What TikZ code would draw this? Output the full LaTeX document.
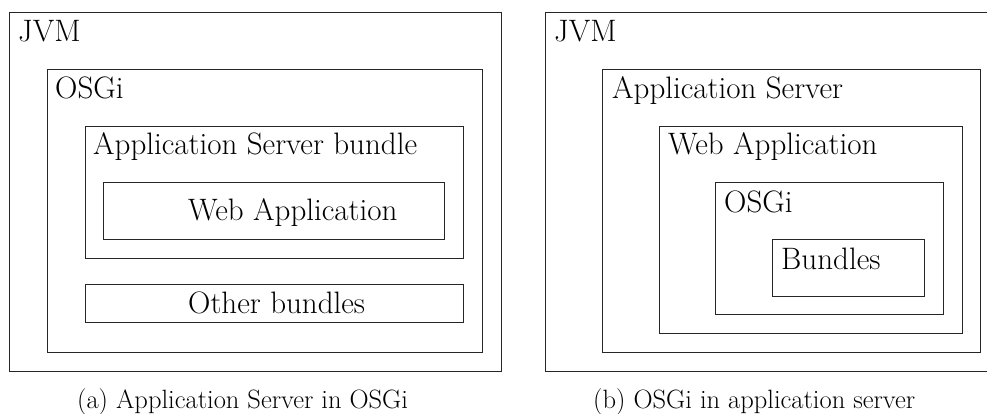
\documentclass[tikz,border=0pt]{standalone}
\usepackage{fontspec}
\begin{document}
\begin{tikzpicture}[x=1pt,y=-1pt,
  frame/.style={draw=black!85, line width=1.3pt, rectangle, inner sep=0pt, anchor=north west},
  boxlabel/.style={anchor=base west, inner sep=0pt, font=\fontsize{31}{37}\selectfont},
  captionlabel/.style={anchor=base west, inner sep=0pt, font=\fontsize{26.5}{32}\selectfont}]
\useasboundingbox (0,0) rectangle (987,414);
\clip (0,0) rectangle (987,414);

% (a) application server running inside OSGi
\node[frame, minimum width=492pt, minimum height=359pt] (jvmA) at (9,12) {};
\node[frame, minimum width=435pt, minimum height=283pt] (osgiA) at (47,69) {};
\node[frame, minimum width=378pt, minimum height=132pt] (asbA) at (85,126) {};
\node[frame, minimum width=341pt, minimum height=57pt] (webA) at (103,182) {};
\node[frame, minimum width=378pt, minimum height=38pt] (othA) at (85,284) {};

\node[boxlabel] (jvmAl) at (18,42) {JVM};
\node[boxlabel] (osgiAl) at (55,99) {OSGi};
\node[boxlabel] (asbAl) at (93,155) {Application Server bundle};
\node[boxlabel] (webAl) at (188,220) {Web Application};
\node[boxlabel] (othAl) at (188,313) {Other bundles};

% (b) OSGi embedded in a web application
\node[frame, minimum width=492pt, minimum height=359pt] (jvmB) at (545,12) {};
\node[frame, minimum width=378pt, minimum height=283pt] (asB) at (602,69) {};
\node[frame, minimum width=303pt, minimum height=207pt] (waB) at (659,126) {};
\node[frame, minimum width=228pt, minimum height=132pt] (osgiB) at (715,182) {};
\node[frame, minimum width=152pt, minimum height=57pt] (bunB) at (772,239) {};

\node[boxlabel] (jvmBl) at (554,42) {JVM};
\node[boxlabel] (asBl) at (612,99) {Application Server};
\node[boxlabel] (waBl) at (668,155) {Web Application};
\node[boxlabel] (osgiBl) at (724,212) {OSGi};
\node[boxlabel] (bunBl) at (781,269) {Bundles};

% sub-captions
\node[captionlabel] (capA) at (77,408) {(a) Application Server in OSGi};
\node[captionlabel] (capB) at (593,408) {(b) OSGi in application server};
\end{tikzpicture}
\end{document}
